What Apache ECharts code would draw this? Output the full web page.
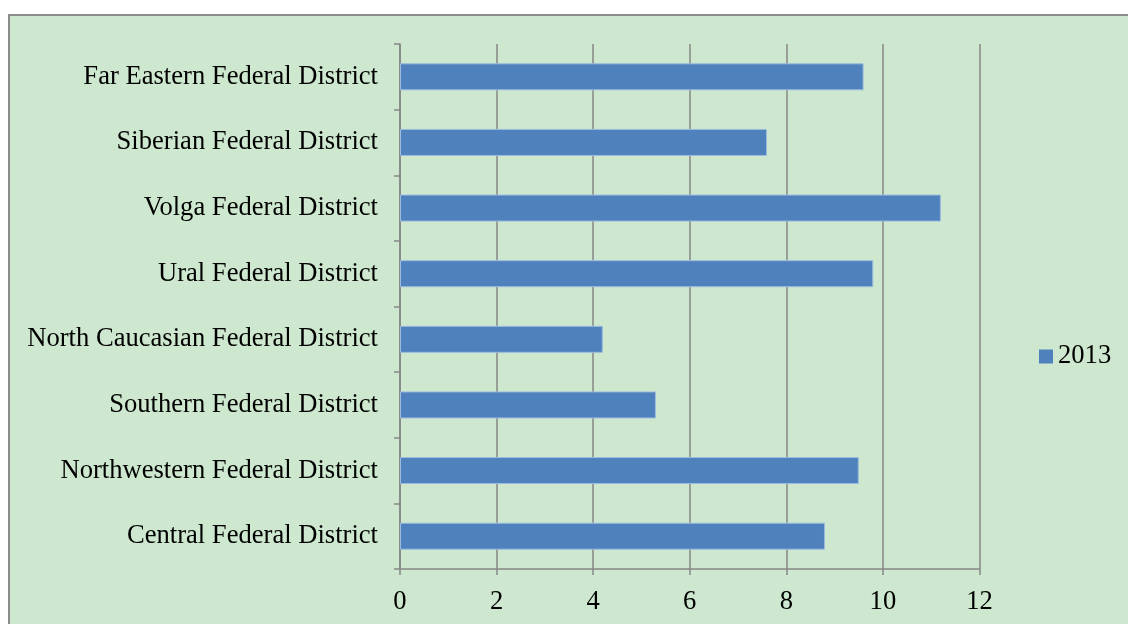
<!DOCTYPE html>
<html>
<head>
<meta charset="utf-8">
<script src="https://cdn.jsdelivr.net/npm/echarts@6/dist/echarts.min.js"></script>
<style>
  html, body { margin: 0; padding: 0; background: #ffffff; }
  #frame {
    position: absolute; left: 8px; top: 14px; width: 1140px; height: 640px;
    background: #cde8cf; border: 2px solid #8c8c8c; box-sizing: border-box;
  }
  #chart { position: absolute; left: 0; top: 0; width: 1128px; height: 624px; overflow: hidden; }
</style>
</head>
<body>
<div id="frame"></div>
<div id="chart"></div>
<script>
// 数据：从下到上
var districts = [
  'Central Federal District',
  'Northwestern Federal District',
  'Southern Federal District',
  'North Caucasian Federal District',
  'Ural Federal District',
  'Volga Federal District',
  'Siberian Federal District',
  'Far Eastern Federal District'
];
var values2013 = [8.8, 9.5, 5.3, 4.2, 9.8, 11.2, 7.6, 9.6];
var seriesName = '2013';

var fontFamily = "'Liberation Serif', 'Times New Roman', serif";
var gridColor = '#868686';

var chart = echarts.init(document.getElementById('chart'));
chart.setOption({
  backgroundColor: 'transparent',
  textStyle: { fontFamily: fontFamily },
  animation: false,
  // 图例
  legend: {
    data: [seriesName],
    orient: 'vertical',
    left: 1034,
    top: 338,
    itemWidth: 14,
    itemHeight: 14,
    icon: 'rect',
    itemStyle: { borderWidth: 0 },
    textStyle: { fontSize: 26.6, color: '#000', fontFamily: fontFamily }
  },
  grid: {
    left: 400,
    right: 148.5,
    top: 44,
    bottom: 55,
    containLabel: false
  },
  xAxis: {
    type: 'value',
    min: 0,
    max: 12,
    interval: 2,
    axisLine: { show: true, lineStyle: { color: gridColor, width: 1.5 } },
    axisTick: { show: true, length: 6, lineStyle: { color: gridColor, width: 1.5 } },
    splitLine: { show: true, lineStyle: { color: gridColor, width: 1.5 } },
    axisLabel: { color: '#000', fontSize: 26.6, margin: 20, fontFamily: fontFamily }
  },
  yAxis: {
    type: 'category',
    data: districts,
    axisLine: { show: true, lineStyle: { color: gridColor, width: 1.5 } },
    axisTick: { show: true, length: 6, lineStyle: { color: gridColor, width: 1.5 } },
    axisLabel: { color: '#000', fontSize: 26.6, margin: 22, fontFamily: fontFamily }
  },
  series: [
    {
      name: seriesName,
      type: 'bar',
      data: values2013,
      barWidth: 27,
      itemStyle: { color: '#4f81bd', borderColor: '#9dbbe0', borderWidth: 1 }
    }
  ]
});
</script>
</body>
</html>
